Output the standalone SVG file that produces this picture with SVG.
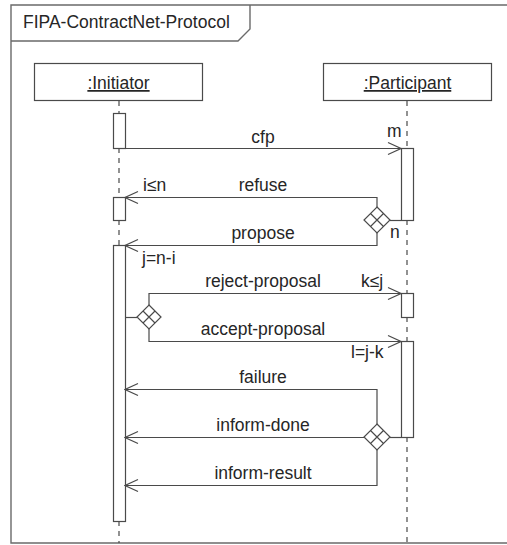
<svg xmlns="http://www.w3.org/2000/svg" width="507" height="545" viewBox="0 0 507 545">
  <style>
    .ln { fill: none; stroke: #4a4a4a; stroke-width: 1.2; }
    .box { fill: #fff; stroke: #4a4a4a; stroke-width: 1.2; }
    .life { fill: none; stroke: #4a4a4a; stroke-width: 1.2; stroke-dasharray: 5 5; }
    .frame { fill: none; stroke: #6a6a6a; stroke-width: 1.4; }
    text { font-family: "Liberation Sans", Arial, sans-serif; font-size: 17.5px; fill: #262626; }
    .c { text-anchor: middle; }
    .u { text-decoration: underline; }
  </style>
  <defs>
    <marker id="open" markerUnits="userSpaceOnUse" markerWidth="16" markerHeight="16" viewBox="-15 -8 16 16" refX="0" refY="0" orient="auto">
      <path d="M-13,-6 L0,0 L-13,6" fill="none" stroke="#4a4a4a" stroke-width="1.2"/>
    </marker>
  </defs>

  <!-- interaction frame (continues past the right edge) -->
  <g id="frame">
    <path class="frame" d="M515,5 H11 V543 H515"/>
    <path class="frame" d="M11,41 H238 L250,29 V5"/>
    <text x="23" y="28">FIPA-ContractNet-Protocol</text>
  </g>

  <!-- lifelines -->
  <g id="initiator">
    <rect class="box" x="34.5" y="63.5" width="168" height="37"/>
    <text class="c u" x="118.5" y="89">:Initiator</text>
    <path class="life" d="M119,101 V113 M119,148 V197 M119,220 V245 M119,521 V543"/>
    <rect class="box" x="113.5" y="113.5" width="12" height="35"/>
    <rect class="box" x="113.5" y="197.5" width="12" height="23"/>
    <rect class="box" x="113.5" y="245.5" width="12" height="276"/>
  </g>
  <g id="participant">
    <rect class="box" x="323.5" y="63.5" width="168" height="37"/>
    <text class="c u" x="407.5" y="89">:Participant</text>
    <path class="life" d="M407,101 V148 M407,220 V293 M407,317 V341 M407,437 V543"/>
    <rect class="box" x="401.5" y="148.5" width="12" height="72"/>
    <rect class="box" x="401.5" y="293.5" width="12" height="24"/>
    <rect class="box" x="401.5" y="341.5" width="12" height="96"/>
  </g>

  <!-- decision gateways -->
  <g id="gate-reply">
    <path class="box" d="M377,207 L390,220 L377,233 L364,220 Z"/>
    <path class="ln" d="M370.5,213.5 L383.5,226.5 M383.5,213.5 L370.5,226.5"/>
  </g>
  <g id="gate-select">
    <path class="box" d="M149,305 L161,317 L149,329 L137,317 Z"/>
    <path class="ln" d="M143,311 L155,323 M155,311 L143,323"/>
  </g>
  <g id="gate-result">
    <path class="box" d="M377,424 L390,437 L377,450 L364,437 Z"/>
    <path class="ln" d="M370.5,430.5 L383.5,443.5 M383.5,430.5 L370.5,443.5"/>
  </g>

  <!-- messages -->
  <g id="connectors">
    <path class="ln" d="M125,148.5 H401" marker-end="url(#open)"/>
    <path class="ln" d="M401,220.5 H390"/>
    <path class="ln" d="M377,207 V197.5 H125" marker-end="url(#open)"/>
    <path class="ln" d="M377,233 V245.5 H125" marker-end="url(#open)"/>
    <path class="ln" d="M125,317.5 H137"/>
    <path class="ln" d="M149,305 V293.5 H401" marker-end="url(#open)"/>
    <path class="ln" d="M149,329 V341.5 H401" marker-end="url(#open)"/>
    <path class="ln" d="M401,437.5 H390"/>
    <path class="ln" d="M377,424 V389.5 H125" marker-end="url(#open)"/>
    <path class="ln" d="M364,437.5 H125" marker-end="url(#open)"/>
    <path class="ln" d="M377,450 V485.5 H125" marker-end="url(#open)"/>

    <text class="c" x="263" y="143">cfp</text>
    <text x="387" y="137">m</text>
    <text class="c" x="263" y="191">refuse</text>
    <text x="143" y="191">i≤n</text>
    <text class="c" x="263" y="239">propose</text>
    <text x="390" y="238">n</text>
    <text x="142" y="264">j=n-i</text>
    <text class="c" x="263" y="287">reject-proposal</text>
    <text x="361" y="287">k≤j</text>
    <text class="c" x="263" y="335">accept-proposal</text>
    <text x="351" y="358">l=j-k</text>
    <text class="c" x="263" y="383">failure</text>
    <text class="c" x="263" y="431">inform-done</text>
    <text class="c" x="263" y="479">inform-result</text>
  </g>
</svg>
